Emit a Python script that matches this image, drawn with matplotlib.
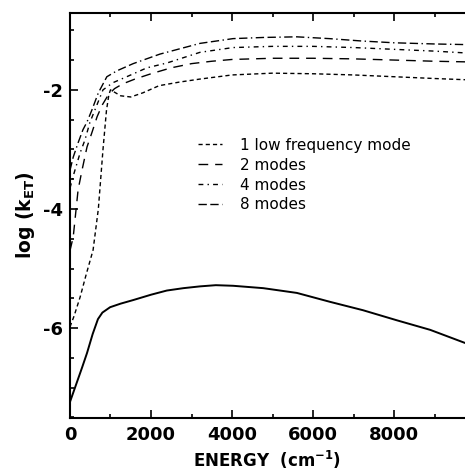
import matplotlib
matplotlib.use("Agg")
import matplotlib.pyplot as plt
from matplotlib.ticker import MultipleLocator

plt.rcParams["font.family"] = ["DejaVu Sans"]
plt.rcParams["axes.unicode_minus"] = False
plt.rcParams["mathtext.fontset"] = "custom"
plt.rcParams["mathtext.rm"] = "DejaVu Sans:bold"
plt.rcParams["mathtext.bf"] = "DejaVu Sans:bold"

# 1 low frequency mode
e_1 = [0, 100, 250, 400, 570, 700, 815, 900, 960, 1000, 1100, 1250, 1500, 1800,
       2200, 2700, 3200, 4000, 5000, 6000, 7000, 8000, 9000, 9750]
k_1 = [-5.98, -5.8, -5.48, -5.1, -4.69, -4.0, -3.0, -2.35, -2.08, -2.0, -2.04,
       -2.1, -2.12, -2.05, -1.93, -1.87, -1.82, -1.75, -1.72, -1.73, -1.75,
       -1.78, -1.81, -1.83]

# 2 modes
e_2 = [0, 80, 200, 300, 420, 550, 670, 800, 950, 1100, 1300, 1600, 2000, 2500,
       3000, 3500, 4000, 5000, 6000, 7000, 8000, 9000, 9750]
k_2 = [-4.7, -4.47, -3.68, -3.34, -2.96, -2.7, -2.45, -2.25, -2.08, -1.98, -1.9,
       -1.82, -1.73, -1.63, -1.56, -1.52, -1.49, -1.47, -1.47, -1.48, -1.5,
       -1.52, -1.53]

# 4 modes
e_4 = [0, 100, 250, 370, 490, 667, 815, 1060, 1400, 1900, 2390, 3210, 4025,
       5000, 6000, 7000, 8000, 9000, 9750]
k_4 = [-3.65, -3.4, -3.06, -2.84, -2.55, -2.25, -2.0, -1.88, -1.78, -1.63,
       -1.55, -1.37, -1.29, -1.27, -1.27, -1.29, -1.32, -1.35, -1.38]

# 8 modes
e_8 = [0, 80, 200, 320, 420, 540, 700, 910, 1160, 1560, 2220, 3210, 4025, 4800,
       5600, 6400, 7200, 8000, 9000, 9750]
k_8 = [-3.35, -3.13, -2.89, -2.67, -2.54, -2.34, -2.05, -1.78, -1.68, -1.56,
       -1.40, -1.22, -1.14, -1.12, -1.11, -1.14, -1.18, -1.21, -1.23, -1.24]

# solid curve
e_s = [0, 150, 300, 420, 560, 690, 800, 990, 1250, 1560, 2000, 2390, 2800, 3210,
       3600, 4025, 4770, 5600, 6420, 7230, 8070, 8890, 9750]
k_s = [-7.24, -6.95, -6.66, -6.42, -6.1, -5.85, -5.74, -5.65, -5.59, -5.53,
       -5.44, -5.37, -5.33, -5.3, -5.28, -5.29, -5.33, -5.41, -5.56, -5.7,
       -5.87, -6.03, -6.25]

labels = ["1 low frequency mode", "2 modes", "4 modes", "8 modes"]

fig = plt.figure(figsize=(4.65, 4.73), dpi=100)
ax = fig.add_axes([0.1505, 0.1163, 0.8495, 0.8562])

ax.plot(e_1, k_1, color="black", lw=1.0, dashes=(3, 2.2), label=labels[0])
ax.plot(e_2, k_2, color="black", lw=1.0, dashes=(7, 5), label=labels[1])
ax.plot(e_4, k_4, color="black", lw=1.0, dashes=(3.5, 3, 1, 3), label=labels[2])
ax.plot(e_8, k_8, color="black", lw=1.0, dashes=(6, 2.5, 6, 2.5, 1, 2.5), label=labels[3])
ax.plot(e_s, k_s, color="black", lw=1.4)

ax.set_xlim(0, 9750)
ax.set_ylim(-7.51, -0.71)

ax.xaxis.set_major_locator(MultipleLocator(2000))
ax.xaxis.set_minor_locator(MultipleLocator(1000))
ax.yaxis.set_major_locator(MultipleLocator(2))
ax.yaxis.set_minor_locator(MultipleLocator(0.5))
ax.tick_params(which="both", direction="in", top=True, right=False, width=1.2)
ax.tick_params(which="major", length=6)
ax.tick_params(which="minor", length=3)
ax.tick_params(axis="x", which="major", pad=6)
ax.tick_params(axis="y", which="major", pad=5)
ax.spines["right"].set_visible(False)
for s in ["left", "bottom", "top"]:
    ax.spines[s].set_linewidth(1.5)

for lab in ax.get_xticklabels() + ax.get_yticklabels():
    lab.set_fontweight("bold")
    lab.set_fontsize(13)

ax.set_xlabel("ENERGY  (cm$^{-1}$)", fontsize=12, fontweight="bold", labelpad=3)
ax.set_ylabel("log (k$_{\\rm ET}$)", fontsize=13.5, fontweight="bold", labelpad=4)

ax.legend(loc="upper left", bbox_to_anchor=(0.324, 0.692), frameon=False,
          fontsize=11, handlelength=1.57, handletextpad=1.18, labelspacing=0.32,
          borderaxespad=0, borderpad=0)

fig.savefig("out.png", dpi=100)
